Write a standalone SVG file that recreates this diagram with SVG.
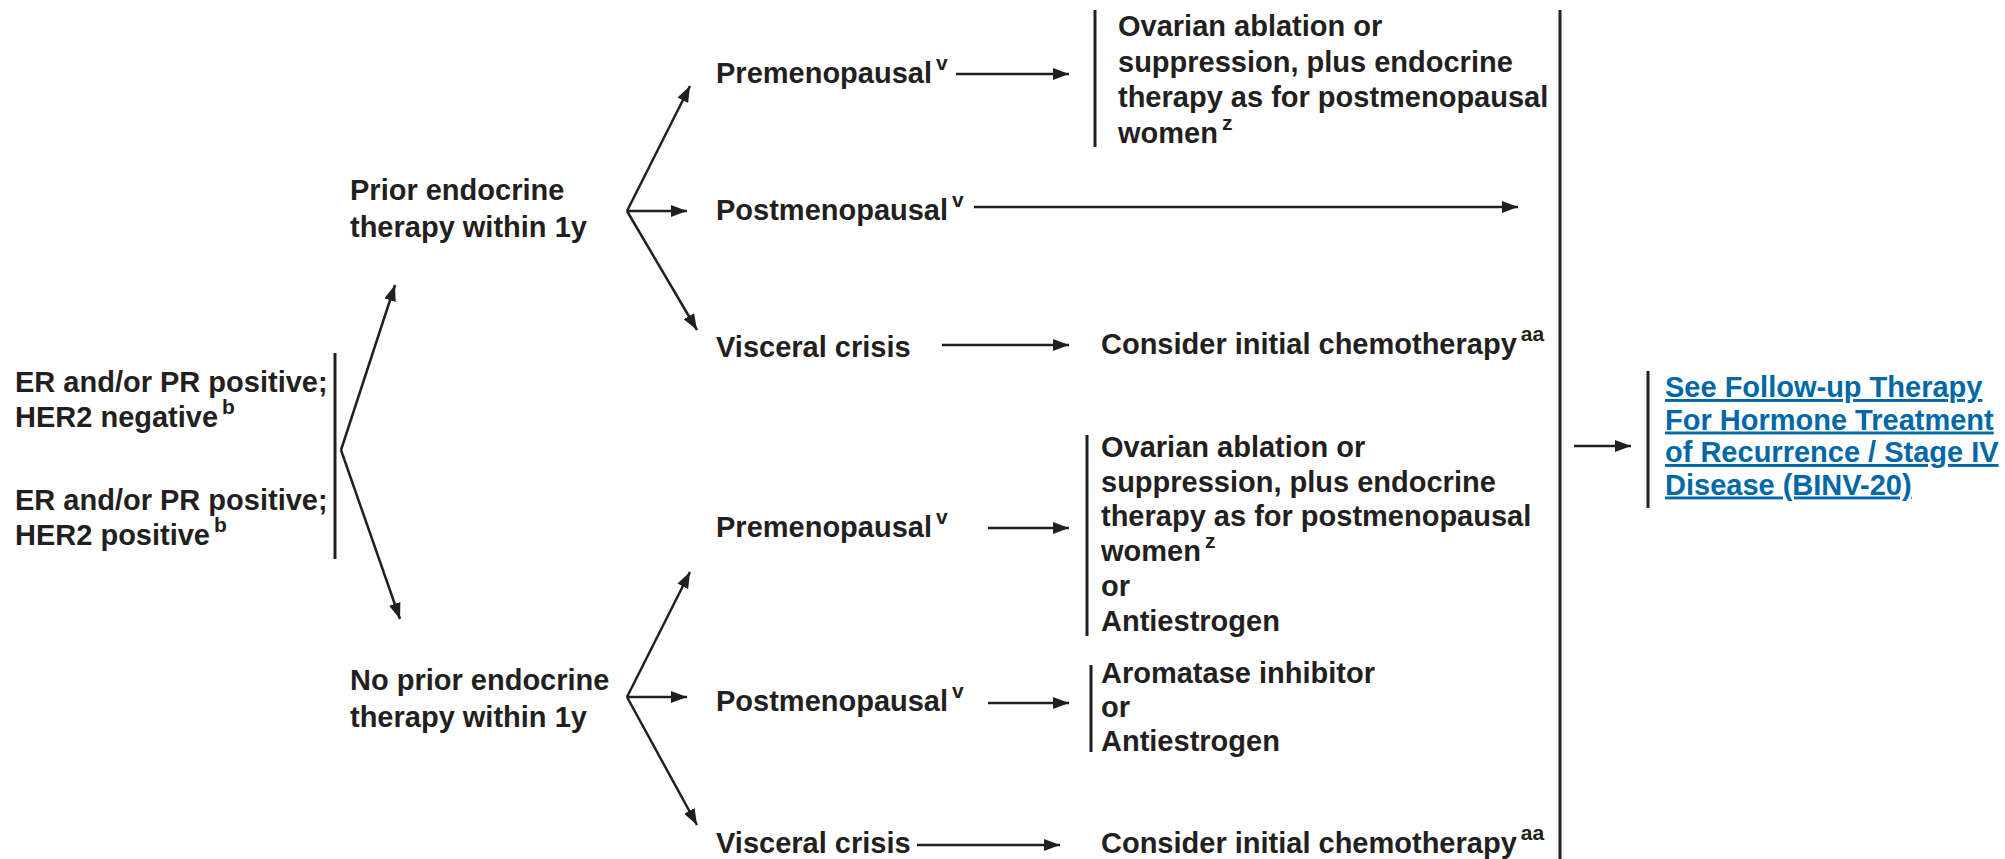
<svg xmlns="http://www.w3.org/2000/svg" width="2005" height="859" viewBox="0 0 2005 859">
<style>
text{font-family:"Liberation Sans",Arial,Helvetica,sans-serif;font-weight:bold;font-size:29px;fill:#231f20}
.sup{font-size:21px}
.link{fill:#0068a7;text-decoration:underline}
.bar{stroke:#231f20;stroke-width:3;fill:none}
.arr{stroke:#231f20;stroke-width:2.5;fill:none;marker-end:url(#ah)}
</style>
<defs>
<marker id="ah" markerUnits="userSpaceOnUse" markerWidth="18" markerHeight="14" refX="16" refY="6" orient="auto">
<path d="M0,0 L16,6 L0,12 z" fill="#231f20"/>
</marker>
</defs>
<rect width="2005" height="859" fill="#fff"/>
<g id="connectors">
<line class="bar" x1="335" y1="353" x2="335" y2="559"/>
<line class="arr" x1="341" y1="450" x2="395" y2="285"/>
<line class="arr" x1="341" y1="450" x2="400" y2="619"/>
<line class="arr" x1="627" y1="211" x2="690" y2="86"/>
<line class="arr" x1="627" y1="211" x2="687" y2="211"/>
<line class="arr" x1="627" y1="211" x2="697" y2="330"/>
<line class="arr" x1="627" y1="697" x2="690" y2="572"/>
<line class="arr" x1="627" y1="697" x2="687" y2="697"/>
<line class="arr" x1="627" y1="697" x2="697" y2="825"/>
<line class="arr" x1="956" y1="74" x2="1069" y2="74"/>
<line class="arr" x1="974" y1="207" x2="1518" y2="207"/>
<line class="arr" x1="942" y1="345" x2="1069" y2="345"/>
<line class="arr" x1="988" y1="528" x2="1069" y2="528"/>
<line class="arr" x1="988" y1="703" x2="1069" y2="703"/>
<line class="arr" x1="917" y1="845" x2="1060" y2="845"/>
<line class="bar" x1="1095" y1="10" x2="1095" y2="147"/>
<line class="bar" x1="1087" y1="435" x2="1087" y2="636"/>
<line class="bar" x1="1091" y1="665" x2="1091" y2="752"/>
<line class="bar" x1="1560" y1="10" x2="1560" y2="859"/>
<line class="arr" x1="1574" y1="446" x2="1631" y2="446"/>
<line class="bar" x1="1648" y1="371" x2="1648" y2="508"/>
</g>
<g id="n-er">
<text x="15" y="392">ER and/or PR positive;</text>
<text x="15" y="427">HER2 negative<tspan class="sup" dx="4" dy="-13">b</tspan></text>
<text x="15" y="510">ER and/or PR positive;</text>
<text x="15" y="545">HER2 positive<tspan class="sup" dx="4" dy="-13">b</tspan></text>
</g>
<g id="n-prior">
<text x="350" y="200">Prior endocrine</text>
<text x="350" y="237">therapy within 1y</text>
</g>
<g id="n-noprior">
<text x="350" y="690">No prior endocrine</text>
<text x="350" y="727">therapy within 1y</text>
</g>
<g id="n-pre1"><text x="716" y="83">Premenopausal<tspan class="sup" dx="4" dy="-13">v</tspan></text></g>
<g id="n-post1"><text x="716" y="220">Postmenopausal<tspan class="sup" dx="4" dy="-13">v</tspan></text></g>
<g id="n-vis1"><text x="716" y="357">Visceral crisis</text></g>
<g id="n-ov1">
<text x="1118" y="36">Ovarian ablation or</text>
<text x="1118" y="71.5">suppression, plus endocrine</text>
<text x="1118" y="107">therapy as for postmenopausal</text>
<text x="1118" y="142.5">women<tspan class="sup" dx="4" dy="-13">z</tspan></text>
</g>
<g id="n-chemo1"><text x="1101" y="354">Consider initial chemotherapy<tspan class="sup" dx="4" dy="-13">aa</tspan></text></g>
<g id="n-pre2"><text x="716" y="537">Premenopausal<tspan class="sup" dx="4" dy="-13">v</tspan></text></g>
<g id="n-post2"><text x="716" y="711">Postmenopausal<tspan class="sup" dx="4" dy="-13">v</tspan></text></g>
<g id="n-vis2"><text x="716" y="853">Visceral crisis</text></g>
<g id="n-ov2">
<text x="1101" y="457">Ovarian ablation or</text>
<text x="1101" y="491.7">suppression, plus endocrine</text>
<text x="1101" y="526.4">therapy as for postmenopausal</text>
<text x="1101" y="561.1">women<tspan class="sup" dx="4" dy="-13">z</tspan></text>
<text x="1101" y="595.8">or</text>
<text x="1101" y="630.5">Antiestrogen</text>
</g>
<g id="n-ai">
<text x="1101" y="683">Aromatase inhibitor</text>
<text x="1101" y="717">or</text>
<text x="1101" y="751">Antiestrogen</text>
</g>
<g id="n-chemo2"><text x="1101" y="853">Consider initial chemotherapy<tspan class="sup" dx="4" dy="-13">aa</tspan></text></g>
<g id="n-link">
<text class="link" x="1665" y="397">See Follow-up Therapy</text>
<text class="link" x="1665" y="429.5">For Hormone Treatment</text>
<text class="link" x="1665" y="462">of Recurrence / Stage IV</text>
<text class="link" x="1665" y="494.5">Disease (BINV-20)</text>
</g>
</svg>
